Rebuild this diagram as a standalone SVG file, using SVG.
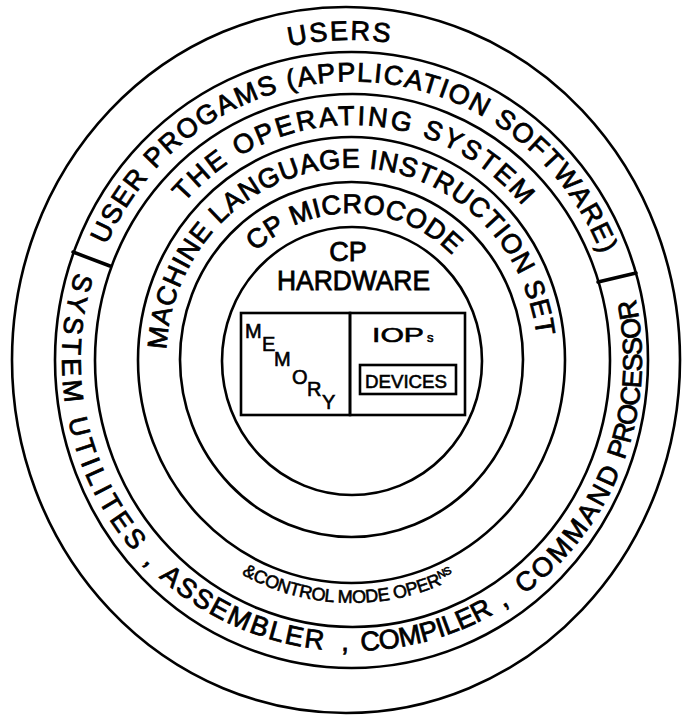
<svg xmlns="http://www.w3.org/2000/svg" xmlns:xlink="http://www.w3.org/1999/xlink" width="683" height="715" viewBox="0 0 683 715">
<style>
.ring{fill:none;stroke:#000;stroke-width:2.6}
.box{fill:none;stroke:#000;stroke-width:2.6}
.div{stroke:#000;stroke-width:3.5;stroke-linecap:round}
.lbl{font-family:"Liberation Sans",Arial,sans-serif;font-size:27px;fill:#000;stroke:#000;stroke-width:0.8}
.sm{font-family:"Liberation Sans",Arial,sans-serif;fill:#000;stroke:#000;stroke-width:0.6}
</style>
<defs>
<path id="pUsers" d="M235.0,63.3 A307,320 0 0 1 444.9,55.7"/>
<path id="pApps" d="M105.8,246.7 A269.5,278.5 0 0 1 601.9,255.7"/>
<path id="pOS" d="M184.1,202.8 A226,235 0 0 1 522.6,205.8"/>
<path id="pML" d="M166.1,353.3 A186,192 0 0 1 537.0,339.9"/>
<path id="pMC" d="M254.5,252.5 A143,147 0 0 1 453.1,256.1"/>
<path id="pSysA" d="M76.2,270.1 A290,291 0 0 0 134.8,552.8"/>
<path id="pCom1" d="M138.8,557.2 A290,291 0 0 0 153.1,571.8"/>
<path id="pSysC" d="M157.9,576.2 A290,291 0 0 0 324.2,649.7"/>
<path id="pCom2" d="M334.8,650.5 A290,291 0 0 0 355.0,651.0"/>
<path id="pSysE" d="M359.6,650.9 A290,291 0 0 0 494.8,613.3"/>
<path id="pCom3" d="M497.9,611.5 A290,291 0 0 0 515.0,600.7"/>
<path id="pSysG" d="M522.5,595.4 A290,291 0 0 0 620.9,469.0"/>
<path id="pSysH" d="M623.6,461.9 A290,291 0 0 0 635.1,297.0"/>
<path id="pCtl" d="M238.6,572.5 A234,243 0 0 0 458.2,576.5"/>
</defs>
<rect width="683" height="715" fill="#fff"/>

<g id="users">
<ellipse class="ring" cx="346" cy="360" rx="334" ry="353"/>
<text class="lbl"><textPath xlink:href="#pUsers" href="#pUsers" startOffset="50%" text-anchor="middle" textLength="101">USERS</textPath></text>
</g>

<g id="user-programs">
<ellipse class="ring" cx="351.5" cy="360" rx="296.5" ry="308"/>
<text class="lbl"><textPath xlink:href="#pApps" href="#pApps" startOffset="50%" text-anchor="middle" textLength="634">USER PROGAMS (APPLICATION SOFTWARE)</textPath></text>
</g>

<g id="system-programs">
<text class="lbl"><textPath xlink:href="#pSysA" href="#pSysA" startOffset="50%" text-anchor="middle" textLength="298">SYSTEM UTILITES</textPath></text>
<text class="lbl"><textPath xlink:href="#pCom1" href="#pCom1" startOffset="50%" text-anchor="middle">,</textPath></text>
<text class="lbl"><textPath xlink:href="#pSysC" href="#pSysC" startOffset="50%" text-anchor="middle" textLength="182">ASSEMBLER</textPath></text>
<text class="lbl"><textPath xlink:href="#pCom2" href="#pCom2" startOffset="50%" text-anchor="middle">,</textPath></text>
<text class="lbl"><textPath xlink:href="#pSysE" href="#pSysE" startOffset="50%" text-anchor="middle" textLength="139">COMPILER</textPath></text>
<text class="lbl"><textPath xlink:href="#pCom3" href="#pCom3" startOffset="50%" text-anchor="middle">,</textPath></text>
<text class="lbl"><textPath xlink:href="#pSysG" href="#pSysG" startOffset="50%" text-anchor="middle" textLength="159">COMMAND</textPath></text>
<text class="lbl"><textPath xlink:href="#pSysH" href="#pSysH" startOffset="50%" text-anchor="middle" textLength="164">PROCESSOR</textPath></text>
</g>

<g id="operating-system">
<ellipse class="ring" cx="352.5" cy="360.5" rx="257.5" ry="266.5"/>
<text class="lbl"><textPath xlink:href="#pOS" href="#pOS" startOffset="50%" text-anchor="middle" textLength="385">THE OPERATING SYSTEM</textPath></text>
<text class="sm" font-size="18"><textPath xlink:href="#pCtl" href="#pCtl" startOffset="50%" text-anchor="middle" textLength="222">&amp;CONTROL MODE OPER<tspan font-size="11" dy="-6">NS</tspan></textPath></text>
</g>

<g id="machine-language">
<ellipse class="ring" cx="351.5" cy="360" rx="213.5" ry="223"/>
<text class="lbl"><textPath xlink:href="#pML" href="#pML" startOffset="50%" text-anchor="middle" textLength="560">MACHINE LANGUAGE INSTRUCTION SET</textPath></text>
</g>

<g id="cp-microcode">
<ellipse class="ring" cx="351.5" cy="359.5" rx="171.5" ry="177.5"/>
<text class="lbl"><textPath xlink:href="#pMC" href="#pMC" startOffset="50%" text-anchor="middle" textLength="218">CP MICROCODE</textPath></text>
</g>

<g id="cp-hardware">
<ellipse class="ring" cx="352" cy="361" rx="130" ry="134"/>
<text class="lbl" x="348" y="261" text-anchor="middle">CP</text>
<text class="lbl" x="277" y="290" textLength="153" lengthAdjust="spacingAndGlyphs">HARDWARE</text>
</g>

<g id="memory">
<rect class="box" x="241" y="313" width="109" height="102"/>
<text class="sm" font-size="20" x="245 262 274 292 307 322" y="338 351 366 384 396 409">MEMORY</text>
</g>

<g id="iops">
<rect class="box" x="350" y="313" width="115" height="102"/>
<text class="sm" font-size="21" x="372" y="342"><tspan textLength="52" lengthAdjust="spacingAndGlyphs">IOP</tspan><tspan x="427" font-size="13">s</tspan></text>
</g>

<g id="devices">
<rect class="box" x="360" y="365" width="96" height="29"/>
<text class="sm" font-size="19" x="365" y="388" textLength="82" lengthAdjust="spacingAndGlyphs">DEVICES</text>
</g>

<g id="connectors">
<line class="div" x1="73" y1="252" x2="110" y2="266"/>
<line class="div" x1="598" y1="282" x2="636" y2="273"/>
</g>
</svg>
